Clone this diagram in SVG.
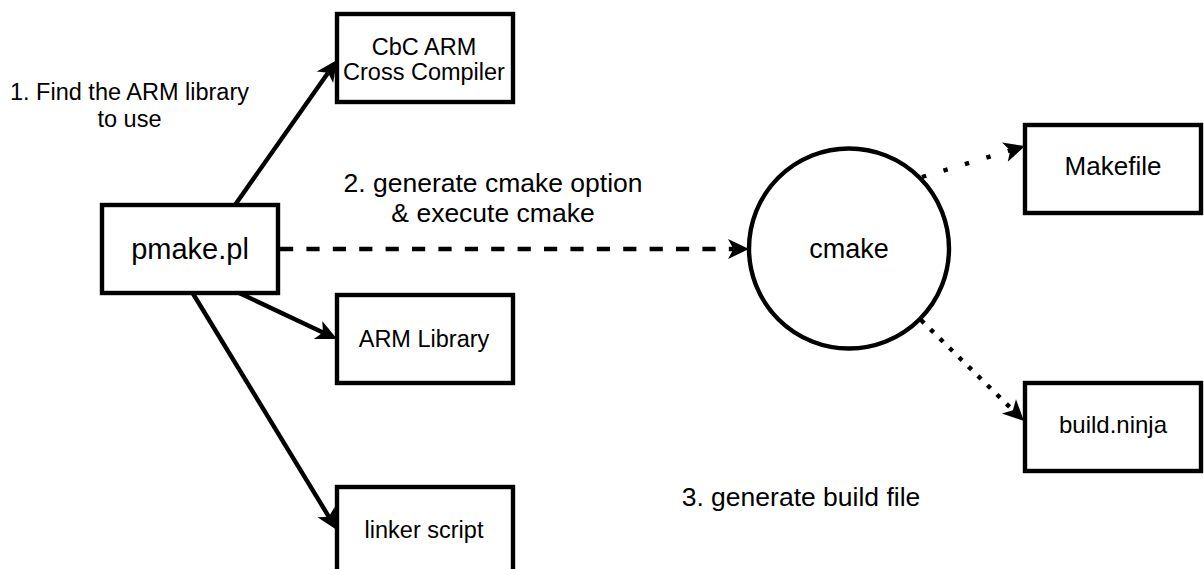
<svg xmlns="http://www.w3.org/2000/svg" width="1204" height="569" viewBox="0 0 1204 569">
<defs>
<marker id="arr" markerUnits="userSpaceOnUse" viewBox="-8 -12 26 24" markerWidth="26" markerHeight="24" refX="0" refY="0" orient="auto" overflow="visible">
<path d="M15.5,0 L-5.5,-10 L0,0 L-5.5,10 Z" fill="#000"/>
</marker>
</defs>
<style>
.box{fill:#fff;stroke:#000;stroke-width:4.4}
.t{font-family:"Liberation Sans",Arial,sans-serif;fill:#000;text-anchor:middle}
.ln{fill:none;stroke:#000;stroke-width:4.4}
</style>
<rect width="1204" height="569" fill="#fff"/>
<g id="connectors">
<line class="ln" x1="235" y1="205" x2="328.1" y2="72.7" marker-end="url(#arr)"/>
<line class="ln" x1="237" y1="292" x2="323" y2="332.4" marker-end="url(#arr)"/>
<line class="ln" x1="192" y1="292" x2="328.9" y2="516.8" marker-end="url(#arr)"/>
<line class="ln" x1="280" y1="249" x2="733.5" y2="249" stroke-dasharray="13.2 13.2" marker-end="url(#arr)"/>
<line class="ln" x1="922" y1="177" x2="1010.2" y2="150.5" stroke-dasharray="4.4 18" marker-end="url(#arr)"/>
<line class="ln" x1="921" y1="320" x2="1012.9" y2="410.2" stroke-dasharray="4.4 8.9" marker-end="url(#arr)"/>
</g>
<g id="label1"><text class="t" font-size="23.5" x="129.5" y="100">1. Find the ARM library</text><text class="t" font-size="23.5" x="129.5" y="127">to use</text></g>
<g id="label2"><text class="t" font-size="26.5" x="493" y="192">2. generate cmake option</text><text class="t" font-size="26.5" x="493" y="222">&amp; execute cmake</text></g>
<g id="label3"><text class="t" font-size="26.5" x="801" y="506">3. generate build file</text></g>
<g id="pmake"><rect class="box" x="102" y="205" width="176" height="88"/><text class="t" font-size="29" x="190" y="259">pmake.pl</text></g>
<g id="cbc"><rect class="box" x="337" y="14" width="176" height="88"/><text class="t" font-size="23.5" x="424" y="55">CbC ARM</text><text class="t" font-size="23.5" x="424" y="80">Cross Compiler</text></g>
<g id="armlib"><rect class="box" x="337" y="295" width="176" height="88"/><text class="t" font-size="23.5" x="424" y="347">ARM Library</text></g>
<g id="linker"><rect class="box" x="337" y="487" width="176" height="88"/><text class="t" font-size="23.5" x="424" y="538">linker script</text></g>
<g id="cmake"><circle class="box" cx="849" cy="248.5" r="100"/><text class="t" font-size="27" x="849" y="258">cmake</text></g>
<g id="makefile"><rect class="box" x="1025" y="125" width="176" height="88"/><text class="t" font-size="26" x="1113" y="175">Makefile</text></g>
<g id="ninja"><rect class="box" x="1025" y="383" width="176" height="88"/><text class="t" font-size="24" x="1113" y="433">build.ninja</text></g>
</svg>
